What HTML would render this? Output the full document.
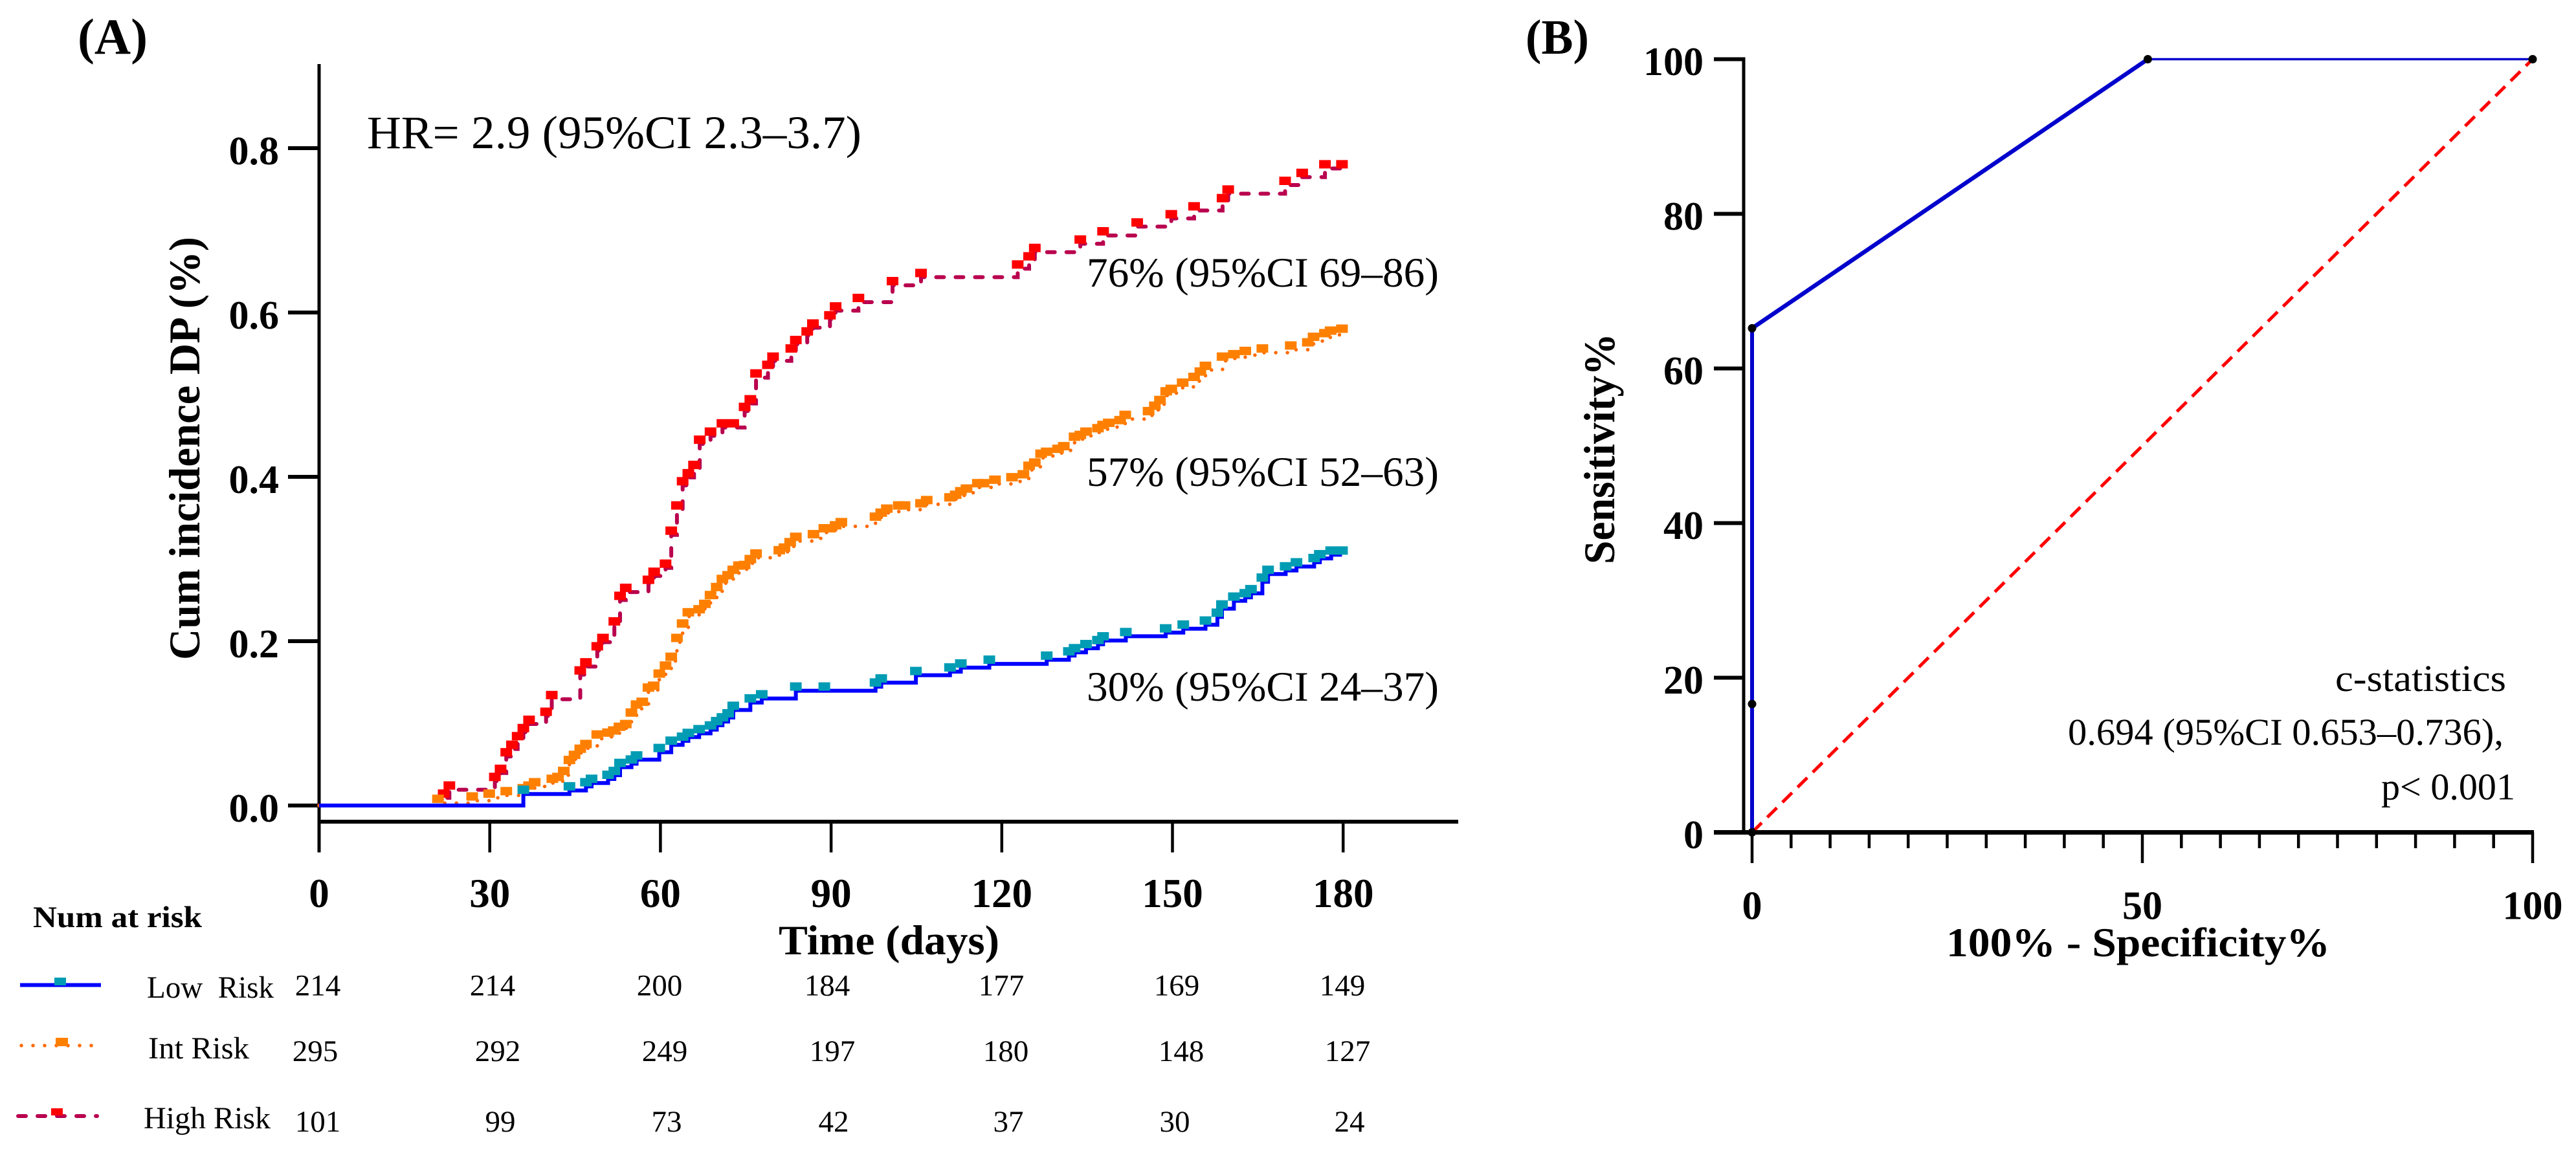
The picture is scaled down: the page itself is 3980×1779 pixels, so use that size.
<!DOCTYPE html>
<html lang="en">
<head>
<meta charset="utf-8">
<title>Cumulative incidence and ROC chart</title>
<style>
html,body{margin:0;padding:0;background:#fff;}
svg{display:block;}
text{font-family:"Liberation Serif",serif;fill:#000;}
.b{font-weight:bold;}
</style>
</head>
<body>
<svg id="chart" xmlns="http://www.w3.org/2000/svg" width="3980" height="1779" viewBox="0 0 3980 1779">
<rect x="0" y="0" width="3980" height="1779" fill="#fff"/>
<g id="panelA"></g>
<g id="panelB"></g>

<text class="b" x="120" y="83" font-size="78" textLength="108" lengthAdjust="spacingAndGlyphs">(A)</text>
<text x="567" y="229" font-size="72" textLength="764" lengthAdjust="spacingAndGlyphs">HR= 2.9 (95%CI 2.3–3.7)</text>
<text x="1679" y="443" font-size="65" textLength="544" lengthAdjust="spacingAndGlyphs">76% (95%CI 69–86)</text>
<text x="1679" y="751" font-size="65" textLength="544" lengthAdjust="spacingAndGlyphs">57% (95%CI 52–63)</text>
<text x="1679" y="1083" font-size="65" textLength="544" lengthAdjust="spacingAndGlyphs">30% (95%CI 24–37)</text>
<text class="b" transform="translate(308,1020) rotate(-90)" font-size="68" textLength="654" lengthAdjust="spacingAndGlyphs">Cum incidence DP (%)</text>
<text class="b" x="1203" y="1475" font-size="65" textLength="341" lengthAdjust="spacingAndGlyphs">Time (days)</text>

<g>
<text class="b" x="51" y="1433" font-size="47" textLength="261" lengthAdjust="spacingAndGlyphs">Num at risk</text>

<line x1="31" y1="1522.5" x2="156" y2="1522.5" stroke="#0000ff" stroke-width="6"/>
<rect x="84" y="1511" width="18" height="12" fill="#009cb4"/>
<text x="227" y="1542" font-size="48" textLength="196" lengthAdjust="spacingAndGlyphs" xml:space="preserve">Low  Risk</text>
<line x1="33" y1="1616" x2="156" y2="1616" stroke="#ff6a00" stroke-width="5.5" stroke-linecap="round" stroke-dasharray="0 18"/>
<rect x="86" y="1604" width="19" height="13" fill="#ff8000"/>
<text x="229" y="1636" font-size="48" textLength="156" lengthAdjust="spacingAndGlyphs">Int Risk</text>
<line x1="28" y1="1725" x2="150" y2="1725" stroke="#b9004e" stroke-width="6" stroke-linecap="round" stroke-dasharray="12 18"/>
<rect x="79" y="1713" width="18" height="11" fill="#ff0000"/>
<text x="222" y="1744" font-size="48" textLength="196" lengthAdjust="spacingAndGlyphs">High Risk</text>

<g font-size="47" text-anchor="middle">
<text x="491" y="1538.5">214</text>
<text x="761" y="1538.5">214</text>
<text x="1019" y="1538.5">200</text>
<text x="1278" y="1538.5">184</text>
<text x="1547" y="1538.5">177</text>
<text x="1818" y="1538.5">169</text>
<text x="2074" y="1538.5">149</text>
</g>
<g font-size="47" text-anchor="middle">
<text x="487" y="1640">295</text>
<text x="769" y="1640">292</text>
<text x="1027" y="1640">249</text>
<text x="1286" y="1640">197</text>
<text x="1554" y="1640">180</text>
<text x="1825" y="1640">148</text>
<text x="2082" y="1640">127</text>
</g>
<g font-size="47" text-anchor="middle">
<text x="491" y="1749">101</text>
<text x="773" y="1749">99</text>
<text x="1030" y="1749">73</text>
<text x="1288" y="1749">42</text>
<text x="1558" y="1749">37</text>
<text x="1815" y="1749">30</text>
<text x="2085" y="1749">24</text>
</g>
</g>

<text class="b" x="2357" y="83" font-size="76" textLength="98" lengthAdjust="spacingAndGlyphs">(B)</text>
<text class="b" transform="translate(2494,872) rotate(-90)" font-size="68" textLength="357" lengthAdjust="spacingAndGlyphs">Sensitivity%</text>
<text class="b" x="3007" y="1478" font-size="64" textLength="593" lengthAdjust="spacingAndGlyphs">100% - Specificity%</text>
<text x="3608" y="1068" font-size="58" textLength="264" lengthAdjust="spacingAndGlyphs">c-statistics</text>
<text x="3195" y="1151" font-size="58" textLength="673" lengthAdjust="spacingAndGlyphs">0.694 (95%CI 0.653–0.736),</text>
<text x="3679" y="1235.5" font-size="58" textLength="207" lengthAdjust="spacingAndGlyphs">p&lt; 0.001</text>
</svg>

<script>
const xTicksA = [0, 30, 60, 90, 120, 150, 180];
const yTicksA = [0, 0.2, 0.4, 0.6, 0.8];
const yTickLabelsA = ["0.0", "0.2", "0.4", "0.6", "0.8"];

const lowDays = [35.9,44,46.9,47.9,50.8,51.9,52.9,54.9,55.8,59.8,61.9,63.9,64.9,66.8,68.8,69.9,70.9,71.9,72.8,75.8,77.8,83.8,88.8,97.8,98.8,104.9,110.9,112.8,117.8,127.9,131.8,132.8,134.8,136.9,137.8,141.8,148.8,151.9,155.8,157.9,158.7,160.8,162.8,163.8,165.8,166.8,169.9,171.8,174.9,175.9,177.9,179.8];
const lowValues = [0.014,0.0183,0.0232,0.0274,0.0323,0.0369,0.0467,0.0509,0.0558,0.0649,0.0738,0.0787,0.0832,0.0878,0.0924,0.0976,0.1022,0.1071,0.1162,0.1253,0.1302,0.1397,0.1397,0.1446,0.1495,0.1586,0.1629,0.1678,0.1724,0.1773,0.1825,0.1864,0.1913,0.1962,0.2008,0.206,0.2105,0.2151,0.22,0.2295,0.2396,0.2491,0.2533,0.2582,0.2723,0.2817,0.286,0.2909,0.2961,0.3007,0.3052,0.3052];

const intDays = [20.9,26.9,29.9,32.9,35.9,36.9,37.9,41,42,43,44,44.9,45.9,46.9,48.9,50.8,51.8,52.8,53.9,54.9,55.8,56.8,57.9,58.8,59.8,60.9,61.9,62.9,63.9,64.9,66.8,67.8,68.8,69.9,70.9,71.9,72.8,73.8,74.8,75.8,76.8,80.9,81.8,82.8,83.8,86.9,88.8,89.8,90.8,91.8,97.8,98.8,99.8,101.9,102.9,105.8,106.8,110.9,111.9,112.8,113.8,115.8,116.8,118.8,121.8,123.8,124.8,125.8,126.9,127.9,129.9,130.9,132.8,133.8,134.8,136.9,137.8,138.8,140.8,141.7,145.8,146.9,147.8,148.9,149.8,151.8,153.8,154.9,155.8,158.8,160.8,162.8,165.8,170.8,173.8,174.8,176.8,177.8,179.8];
const intValues = [0.003,0.0059,0.0094,0.0124,0.016,0.0192,0.0232,0.0274,0.0297,0.0369,0.0503,0.0565,0.064,0.0698,0.0813,0.0836,0.0862,0.0907,0.094,0.108,0.1178,0.1211,0.1384,0.1407,0.1554,0.1652,0.1759,0.1988,0.2164,0.2301,0.2337,0.2403,0.251,0.2608,0.2706,0.2752,0.2817,0.2869,0.2876,0.2948,0.3016,0.3056,0.3088,0.3154,0.3219,0.3251,0.3323,0.3323,0.3359,0.3398,0.3464,0.3513,0.3562,0.3601,0.3601,0.3627,0.3666,0.3699,0.3731,0.3774,0.3806,0.3872,0.3872,0.3914,0.3944,0.398,0.4084,0.4123,0.4231,0.4254,0.429,0.4322,0.4437,0.4459,0.4499,0.4541,0.458,0.4606,0.4639,0.4703,0.4749,0.4815,0.4884,0.499,0.502,0.5095,0.5165,0.5231,0.53,0.5412,0.5442,0.5481,0.5511,0.5547,0.5586,0.5653,0.5698,0.5728,0.5752];

const highDays = [21.9,22.9,30.9,31.9,32.9,33.9,34.9,35.9,36.9,39.9,40.9,45.9,46.9,48.9,49.9,51.9,52.9,53.9,57.9,58.9,60.9,61.9,62.9,63.9,64.9,65.9,66.9,68.8,70.9,72.8,74.8,75.8,76.8,78.9,79.8,83,83.8,85.8,86.8,89.8,90.8,94.8,100.8,105.8,122.8,124.8,125.8,133.8,137.8,143.8,149.8,153.8,158.8,159.8,169.8,172.8,176.8,179.8];
const highValues = [0.0094,0.0192,0.0297,0.0395,0.0597,0.0688,0.0793,0.0891,0.0992,0.109,0.1293,0.1593,0.1691,0.1887,0.1988,0.219,0.2501,0.2598,0.2696,0.2794,0.2892,0.3294,0.3601,0.3895,0.3993,0.4094,0.4401,0.4499,0.46,0.46,0.48,0.4893,0.5207,0.5312,0.5412,0.5511,0.5614,0.5719,0.5815,0.5915,0.6023,0.6126,0.6331,0.643,0.6533,0.6632,0.6735,0.6837,0.6937,0.7045,0.7145,0.7241,0.7341,0.7446,0.7551,0.7648,0.7753,0.7753];

const yTicksB = [0, 20, 40, 60, 80, 100];
const xMajorTicksB = [0, 50, 100];
const xMinorTicksB = [5,10,15,20,25,30,35,40,45,55,60,65,70,75,80,85,90,95];
const rocFpr = [0, 0, 0, 50.7, 100];
const rocSens = [0, 16.6, 65.2, 100, 100];
const refFpr = [0, 100];
const refSens = [0, 100];

const NS = "http://www.w3.org/2000/svg";
const panelA = document.getElementById("panelA");
const panelB = document.getElementById("panelB");

function make(parent, tag, attrs, txt) {
  const el = document.createElementNS(NS, tag);
  for (const k in attrs) el.setAttribute(k, attrs[k]);
  if (txt !== undefined) el.textContent = txt;
  parent.appendChild(el);
  return el;
}

/* axis functions */
const xA = t => 493 + t * 8.79;
const yA = v => 1245 - v * 1270;
const xB = v => 2707 + v * 12.06;
const yB = v => 1286.5 - v * 11.95;

/* ---------- Panel A axes ---------- */
let el = make(panelA, "line", {x1:xA(0), y1:99, x2:xA(0), y2:1317, stroke:"#000", "stroke-width":5});


el = make(panelA, "line", {x1:xA(0), y1:1270, x2:2253, y2:1270, stroke:"#000", "stroke-width":6});



yTicksA.forEach((v, i) => {
  const tick = make(panelA, "line", {x1:445, y1:yA(v), x2:xA(0), y2:yA(v), stroke:"#000", "stroke-width":6});
  
  
  const label = make(panelA, "text", {x:431, y:yA(v) + 25, "font-size":62, "font-weight":"bold", "text-anchor":"end"}, yTickLabelsA[i]);
  
  
});
xTicksA.forEach(t => {
  const tick = make(panelA, "line", {x1:xA(t), y1:1270, x2:xA(t), y2:1317.5, stroke:"#000", "stroke-width":4.5});
  
  
  const label = make(panelA, "text", {x:xA(t), y:1402, "font-size":63, "font-weight":"bold", "text-anchor":"middle"}, String(t));
  
  
});

/* ---------- Panel A series ---------- */
function stepPath(days, values) {
  let d = "M" + xA(0) + " " + yA(0);
  days.forEach((t, i) => {
    d += "H" + xA(t).toFixed(1) + "V" + yA(values[i]).toFixed(1);
  });
  return d;
}
function markers(group, days, values, color) {
  days.forEach((t, i) => {
    const m = make(group, "rect", {x:(xA(t) - 9).toFixed(1), y:(yA(values[i]) - 13).toFixed(1), width:18, height:13, fill:color});
    
    
  });
}

const highGroup = make(panelA, "g", {});


const highLine = make(highGroup, "path", {d:stepPath(highDays, highValues), fill:"none", stroke:"#b9004e", "stroke-width":6, "stroke-linecap":"round", "stroke-dasharray":"12 18"});


markers(highGroup, highDays, highValues, "#ff0000");

const intGroup = make(panelA, "g", {});


const intLine = make(intGroup, "path", {d:stepPath(intDays, intValues), fill:"none", stroke:"#ff6a00", "stroke-width":5.5, "stroke-linecap":"round", "stroke-dasharray":"0 18"});


markers(intGroup, intDays, intValues, "#ff8000");

const lowGroup = make(panelA, "g", {});


const lowLine = make(lowGroup, "path", {d:stepPath(lowDays, lowValues), fill:"none", stroke:"#0000ff", "stroke-width":6});


markers(lowGroup, lowDays, lowValues, "#009cb4");

/* ---------- Panel B axes ---------- */
el = make(panelB, "line", {x1:2694, y1:yB(100) - 3, x2:2694, y2:yB(0), stroke:"#000", "stroke-width":5});


el = make(panelB, "line", {x1:2648, y1:yB(0), x2:xB(100) + 2, y2:yB(0), stroke:"#000", "stroke-width":7});



yTicksB.forEach(v => {
  const tick = make(panelB, "line", {x1:2648, y1:yB(v), x2:2694, y2:yB(v), stroke:"#000", "stroke-width":6});
  
  
  const label = make(panelB, "text", {x:2632, y:yB(v) + 24.5, "font-size":62, "font-weight":"bold", "text-anchor":"end"}, String(v));
  
  
});
xMinorTicksB.forEach(v => {
  const tick = make(panelB, "line", {x1:xB(v), y1:yB(0), x2:xB(v), y2:1311, stroke:"#000", "stroke-width":4.5});
  
  
});
xMajorTicksB.forEach(v => {
  const tick = make(panelB, "line", {x1:xB(v), y1:yB(0), x2:xB(v), y2:1334, stroke:"#000", "stroke-width":4.5});
  
  
  const label = make(panelB, "text", {x:xB(v), y:1420.5, "font-size":62, "font-weight":"bold", "text-anchor":"middle"}, String(v));
  
  
});

/* ---------- Panel B series ---------- */
const refLine = make(panelB, "line", {x1:xB(refFpr[0]), y1:yB(refSens[0]), x2:xB(refFpr[1]), y2:yB(refSens[1]), stroke:"#ff0000", "stroke-width":5, "stroke-dasharray":"21 12"});



const rocWidths = [6, 6, 6.5, 3.5];
rocFpr.forEach((v, i) => {
  if (i === 0) return;
  const seg = make(panelB, "line", {x1:xB(rocFpr[i - 1]), y1:yB(rocSens[i - 1]), x2:xB(v), y2:yB(rocSens[i]), stroke:"#0000cc", "stroke-width":rocWidths[i - 1]});
  
  
});
rocFpr.forEach((v, i) => {
  const dot = make(panelB, "circle", {cx:xB(v), cy:yB(rocSens[i]), r:6.5, fill:"#000"});
  
  
});
</script>
</body>
</html>
